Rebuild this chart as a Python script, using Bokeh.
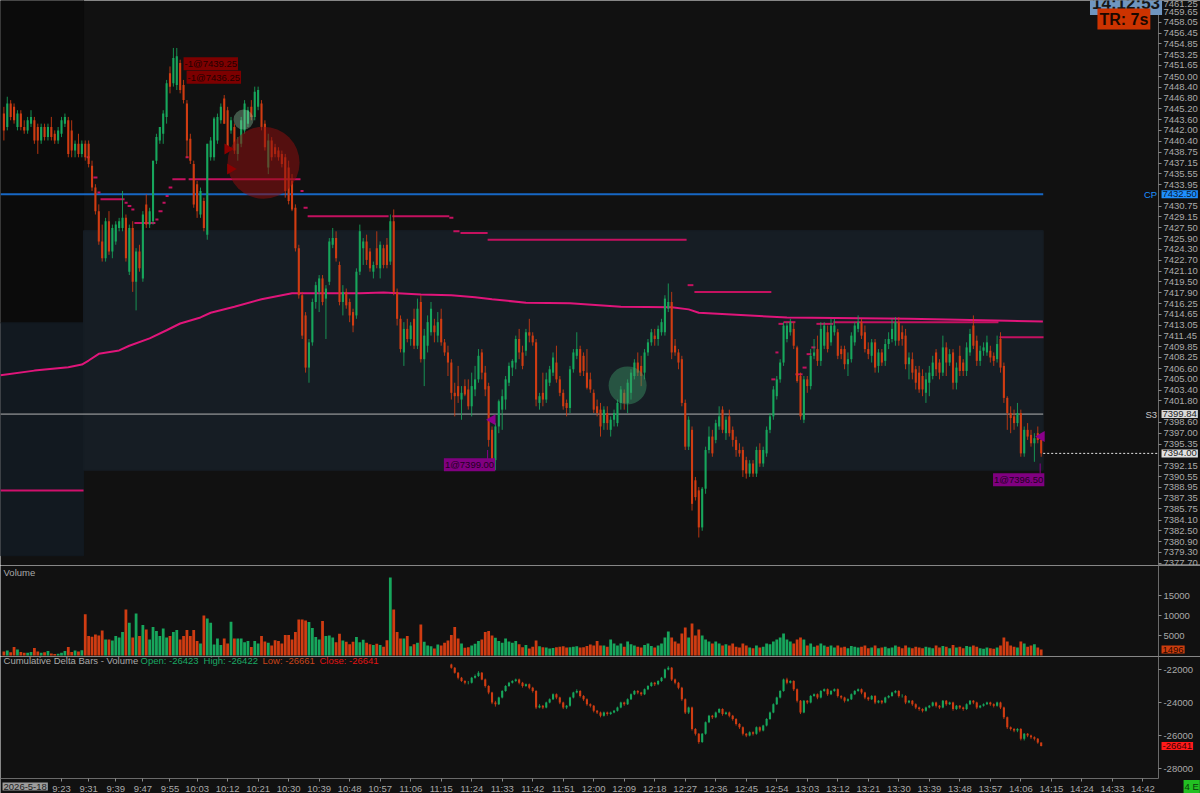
from math import pi
from bokeh.plotting import figure
from bokeh.layouts import column
from bokeh.models import FixedTicker, Label, Range1d, NumeralTickFormatter
from bokeh.embed import file_html
from bokeh.resources import INLINE

# ---------------- data ----------------
first_minute = 546  # first bar 9:06, one-minute bars

opens = [
7444.5, 7442.5, 7446.0, 7445.5, 7442.5, 7444.5, 7442.5, 7442.0, 7443.0, 7443.5,
7442.5, 7440.5, 7442.5, 7441.0, 7442.5, 7441.5, 7440.5, 7441.5, 7443.0, 7443.5,
7442.0, 7439.0, 7440.0, 7438.5, 7440.0, 7440.0, 7436.75, 7433.5, 7430.0, 7425.5,
7423.0, 7428.5, 7424.0, 7425.5, 7427.5, 7427.5, 7429.0, 7421.0, 7427.5, 7419.5,
7424.0, 7420.0, 7431.0, 7428.0, 7428.5, 7437.5, 7440.5, 7441.5, 7444.0, 7450.5,
7449.0, 7448.75, 7452.0, 7448.75, 7446.0, 7440.75, 7437.0, 7434.0, 7429.5, 7431.5,
7426.5, 7438.0, 7438.0, 7440.5, 7443.5, 7446.75, 7445.0, 7442.0, 7442.5, 7438.5,
7440.0, 7442.0, 7443.0, 7445.5, 7444.0, 7445.5, 7446.0, 7443.0, 7436.5, 7440.5,
7439.5, 7439.0, 7438.5, 7438.0, 7436.5, 7434.5, 7430.5, 7424.5, 7417.5, 7414.5,
7406.75, 7410.5, 7416.5, 7418.0, 7420.0, 7417.0, 7419.5, 7425.0, 7426.0, 7422.0,
7416.5, 7418.0, 7416.5, 7415.0, 7414.5, 7421.0, 7424.5, 7425.5, 7424.0, 7421.0,
7424.5, 7421.5, 7424.5, 7425.0, 7422.5, 7428.5, 7418.0, 7414.0, 7409.0, 7412.5,
7411.0, 7414.0, 7410.0, 7416.5, 7408.0, 7410.0, 7412.0, 7413.0, 7411.5, 7414.0,
7410.5, 7409.0, 7407.5, 7403.0, 7404.0, 7402.0, 7404.0, 7403.5, 7401.0, 7403.5,
7405.0, 7409.0, 7406.0, 7404.0, 7397.5, 7393.0, 7398.0, 7400.5, 7402.0, 7404.5,
7406.75, 7407.5, 7411.0, 7409.0, 7409.25, 7412.0, 7411.5, 7410.5, 7401.5, 7403.0,
7402.0, 7404.5, 7406.0, 7407.5, 7405.0, 7403.0, 7401.5, 7400.75, 7406.5, 7408.5,
7409.5, 7408.5, 7406.0, 7405.0, 7403.0, 7401.0, 7400.5, 7398.5, 7400.0, 7397.5,
7399.0, 7398.5, 7401.5, 7403.0, 7401.5, 7403.0, 7405.5, 7407.5, 7407.0, 7406.0,
7409.0, 7410.5, 7411.5, 7411.0, 7412.0, 7412.0, 7415.5, 7416.5, 7410.0, 7409.0,
7408.0, 7401.5, 7395.0, 7397.5, 7390.0, 7388.5, 7383.0, 7388.75, 7394.5, 7396.5,
7396.0, 7398.0, 7400.5, 7397.0, 7399.5, 7397.5, 7396.0, 7394.5, 7394.5, 7393.0,
7391.0, 7392.5, 7391.0, 7394.5, 7392.5, 7394.0, 7397.5, 7399.5, 7402.5, 7405.0,
7407.5, 7411.0, 7412.0, 7412.5, 7409.75, 7405.5, 7399.0, 7405.0, 7404.0, 7408.5,
7409.5, 7407.75, 7410.0, 7412.0, 7410.5, 7412.0, 7412.0, 7409.5, 7409.5, 7407.25,
7408.0, 7410.5, 7412.5, 7413.5, 7412.0, 7409.5, 7408.5, 7410.5, 7407.0, 7409.0,
7407.75, 7410.25, 7411.0, 7410.75, 7413.5, 7412.0, 7411.5, 7407.25, 7408.0, 7406.5,
7406.0, 7405.5, 7403.0, 7404.5, 7405.5, 7409.0, 7407.5, 7406.0, 7409.75, 7407.5,
7409.0, 7404.5, 7408.5, 7407.5, 7406.25, 7409.0, 7413.0, 7410.75, 7407.75, 7409.25,
7409.0, 7409.25, 7408.5, 7408.0, 7411.0, 7407.0, 7402.25, 7400.0, 7399.5, 7398.5,
7400.0, 7394.0, 7397.5, 7396.75, 7395.5, 7397.0, 7396.0]

highs = [
7445.5, 7447.0, 7446.5, 7446.0, 7445.0, 7445.0, 7443.5, 7444.0, 7445.0, 7444.0,
7443.0, 7443.0, 7443.0, 7443.0, 7444.0, 7442.0, 7442.5, 7444.0, 7444.5, 7444.0,
7443.5, 7440.5, 7441.5, 7440.5, 7440.5, 7440.5, 7437.5, 7434.0, 7431.0, 7428.0,
7429.0, 7430.0, 7428.0, 7428.5, 7429.0, 7433.0, 7429.5, 7428.0, 7428.5, 7424.5,
7425.0, 7430.0, 7432.5, 7430.5, 7437.5, 7441.5, 7442.5, 7445.0, 7449.5, 7451.5,
7454.25, 7454.25, 7452.5, 7449.5, 7446.5, 7441.5, 7437.5, 7434.5, 7433.5, 7432.0,
7440.0, 7441.0, 7444.0, 7444.5, 7446.0, 7447.25, 7445.5, 7444.0, 7443.0, 7441.0,
7444.0, 7446.5, 7445.5, 7446.5, 7448.5, 7448.5, 7446.5, 7443.5, 7441.5, 7441.0,
7440.0, 7439.5, 7439.0, 7438.5, 7437.5, 7435.5, 7431.0, 7425.0, 7418.0, 7415.0,
7411.0, 7417.0, 7419.5, 7420.5, 7420.5, 7419.0, 7426.0, 7427.5, 7427.0, 7422.5,
7419.0, 7418.5, 7417.0, 7415.5, 7421.5, 7428.0, 7426.0, 7426.5, 7424.5, 7422.5,
7427.0, 7425.5, 7425.0, 7426.0, 7429.5, 7430.25, 7418.5, 7414.5, 7413.5, 7414.0,
7413.5, 7415.5, 7417.0, 7417.5, 7412.5, 7414.5, 7416.5, 7414.0, 7415.0, 7415.5,
7411.0, 7410.0, 7408.0, 7404.5, 7407.0, 7404.0, 7405.0, 7405.0, 7406.0, 7407.0,
7409.5, 7409.5, 7407.0, 7404.5, 7398.0, 7398.5, 7402.0, 7403.5, 7405.5, 7407.5,
7408.0, 7411.5, 7412.5, 7410.0, 7412.5, 7414.0, 7412.0, 7411.0, 7403.0, 7406.0,
7406.0, 7407.0, 7409.0, 7410.0, 7405.5, 7403.5, 7402.0, 7407.0, 7409.5, 7412.0,
7410.0, 7409.0, 7409.5, 7406.0, 7403.5, 7402.0, 7401.5, 7401.0, 7401.0, 7399.5,
7400.5, 7402.0, 7404.0, 7403.5, 7405.0, 7406.5, 7408.0, 7409.0, 7408.5, 7409.5,
7411.0, 7412.5, 7412.5, 7413.0, 7414.0, 7417.5, 7419.25, 7418.0, 7411.0, 7409.5,
7408.5, 7402.0, 7399.5, 7398.0, 7390.5, 7389.0, 7389.0, 7395.0, 7398.0, 7397.5,
7399.0, 7401.0, 7401.0, 7399.5, 7400.5, 7398.0, 7396.5, 7395.5, 7395.0, 7393.5,
7393.0, 7393.0, 7395.0, 7395.5, 7395.0, 7398.0, 7400.0, 7404.0, 7405.5, 7408.0,
7413.5, 7413.5, 7414.0, 7413.5, 7410.0, 7406.0, 7405.5, 7405.5, 7409.5, 7411.0,
7411.5, 7413.5, 7413.5, 7413.0, 7414.0, 7414.0, 7412.5, 7410.0, 7410.0, 7409.0,
7412.0, 7413.5, 7414.5, 7414.0, 7413.0, 7410.5, 7411.0, 7411.0, 7409.5, 7409.5,
7411.0, 7412.0, 7414.0, 7414.25, 7414.25, 7413.0, 7412.5, 7409.0, 7409.0, 7407.0,
7407.0, 7406.5, 7406.0, 7407.0, 7408.5, 7409.5, 7408.0, 7411.5, 7410.5, 7409.5,
7409.5, 7407.5, 7410.0, 7408.0, 7410.5, 7412.5, 7414.5, 7411.5, 7410.0, 7410.5,
7411.5, 7410.0, 7409.0, 7411.5, 7412.0, 7407.5, 7402.5, 7401.0, 7400.5, 7401.5,
7400.5, 7398.0, 7398.5, 7397.5, 7397.0, 7398.0, 7396.5]

lows = [
7440.5, 7442.0, 7443.5, 7443.0, 7442.0, 7442.0, 7441.5, 7441.5, 7442.5, 7440.0,
7438.5, 7440.0, 7440.5, 7440.5, 7440.5, 7440.0, 7440.0, 7441.0, 7442.5, 7438.0,
7438.0, 7438.0, 7438.0, 7438.0, 7437.5, 7436.5, 7433.0, 7429.5, 7425.0, 7422.5,
7422.5, 7423.5, 7423.0, 7425.0, 7427.0, 7427.0, 7422.5, 7420.5, 7418.0, 7415.25,
7421.0, 7419.5, 7427.5, 7427.5, 7428.0, 7437.0, 7440.0, 7440.0, 7443.0, 7447.5,
7448.5, 7448.0, 7447.5, 7446.0, 7438.0, 7437.0, 7430.5, 7429.0, 7429.0, 7427.0,
7425.75, 7437.5, 7437.5, 7440.0, 7443.0, 7443.0, 7439.0, 7441.5, 7438.5, 7437.5,
7439.5, 7441.5, 7442.5, 7443.5, 7443.5, 7445.0, 7442.0, 7439.0, 7435.5, 7437.5,
7438.0, 7437.5, 7436.5, 7432.0, 7431.0, 7430.0, 7424.0, 7417.0, 7411.0, 7406.0,
7404.5, 7410.0, 7415.5, 7415.0, 7416.0, 7411.0, 7419.0, 7424.5, 7422.5, 7416.0,
7414.5, 7415.5, 7413.5, 7412.0, 7414.0, 7420.5, 7422.0, 7422.0, 7421.0, 7420.0,
7421.5, 7420.0, 7421.5, 7421.5, 7422.0, 7417.5, 7413.0, 7409.0, 7407.0, 7410.5,
7410.0, 7409.5, 7409.5, 7407.5, 7404.0, 7409.0, 7411.5, 7410.5, 7410.5, 7410.0,
7408.5, 7405.5, 7402.0, 7399.5, 7401.5, 7399.0, 7402.5, 7400.5, 7399.5, 7402.5,
7404.5, 7405.0, 7402.5, 7395.0, 7392.5, 7391.5, 7397.0, 7397.5, 7400.5, 7404.0,
7405.5, 7406.5, 7408.0, 7406.5, 7408.5, 7410.5, 7410.0, 7401.0, 7400.5, 7401.0,
7401.5, 7404.0, 7405.5, 7404.5, 7402.5, 7400.5, 7399.5, 7400.0, 7406.0, 7408.0,
7405.5, 7405.5, 7403.5, 7403.0, 7400.0, 7399.5, 7396.5, 7397.5, 7397.5, 7396.5,
7398.0, 7398.0, 7400.5, 7400.5, 7400.0, 7402.0, 7405.0, 7405.5, 7404.0, 7405.0,
7408.5, 7410.0, 7410.0, 7410.0, 7411.5, 7411.5, 7415.0, 7408.0, 7408.5, 7406.5,
7401.0, 7394.5, 7394.5, 7385.5, 7387.0, 7381.5, 7382.5, 7388.0, 7394.0, 7393.5,
7395.5, 7397.5, 7397.0, 7396.0, 7396.5, 7395.0, 7393.5, 7393.5, 7390.5, 7390.25,
7390.5, 7390.5, 7390.5, 7392.0, 7392.0, 7393.5, 7397.0, 7399.0, 7402.0, 7404.5,
7407.0, 7410.5, 7411.5, 7409.5, 7404.5, 7399.0, 7398.5, 7403.0, 7403.5, 7408.0,
7407.0, 7407.0, 7409.5, 7409.0, 7410.0, 7411.5, 7408.0, 7408.0, 7406.5, 7405.5,
7407.5, 7410.0, 7412.0, 7411.0, 7409.0, 7408.0, 7407.5, 7406.0, 7406.0, 7407.0,
7407.0, 7409.5, 7410.5, 7410.0, 7410.0, 7410.0, 7406.5, 7405.0, 7405.0, 7403.5,
7403.0, 7402.5, 7401.5, 7402.5, 7405.0, 7405.5, 7405.0, 7405.5, 7405.5, 7407.0,
7403.5, 7403.5, 7405.5, 7405.5, 7405.5, 7408.5, 7409.5, 7407.0, 7407.0, 7408.5,
7408.5, 7407.5, 7407.0, 7407.5, 7406.0, 7401.5, 7397.5, 7397.0, 7397.5, 7398.0,
7393.5, 7393.5, 7396.0, 7395.0, 7392.75, 7395.5, 7393.5]

closes = [
7442.0, 7446.0, 7444.0, 7443.5, 7444.5, 7442.5, 7442.0, 7443.5, 7444.0, 7440.5,
7440.5, 7442.5, 7441.0, 7442.5, 7441.0, 7440.5, 7442.0, 7443.5, 7444.0, 7438.5,
7439.0, 7440.0, 7438.5, 7440.0, 7438.0, 7437.0, 7433.5, 7430.0, 7425.5, 7423.0,
7428.5, 7424.0, 7427.5, 7428.0, 7428.5, 7429.0, 7423.0, 7427.5, 7419.5, 7424.0,
7421.5, 7429.5, 7428.0, 7430.0, 7437.5, 7441.0, 7442.5, 7444.5, 7449.0, 7448.5,
7452.75, 7453.0, 7448.0, 7446.5, 7440.5, 7437.5, 7431.0, 7430.0, 7433.0, 7427.5,
7440.0, 7440.5, 7443.75, 7444.0, 7445.5, 7443.0, 7439.5, 7443.5, 7439.0, 7440.0,
7443.5, 7446.0, 7445.0, 7444.0, 7447.75, 7448.0, 7442.5, 7439.5, 7440.5, 7438.0,
7438.5, 7438.0, 7437.0, 7433.0, 7431.5, 7430.25, 7424.5, 7417.5, 7411.5, 7406.75,
7410.5, 7416.5, 7419.0, 7420.0, 7416.5, 7418.5, 7425.5, 7426.0, 7423.0, 7416.5,
7418.0, 7416.0, 7414.5, 7413.0, 7421.0, 7427.0, 7425.5, 7422.75, 7421.5, 7422.0,
7422.0, 7425.0, 7422.0, 7422.0, 7428.5, 7418.0, 7414.0, 7409.5, 7412.5, 7411.0,
7413.0, 7410.0, 7415.5, 7408.0, 7411.5, 7413.5, 7415.5, 7412.0, 7413.5, 7410.5,
7409.0, 7407.5, 7403.0, 7402.5, 7402.5, 7403.0, 7402.75, 7401.0, 7404.0, 7405.0,
7408.5, 7406.0, 7403.5, 7396.0, 7393.0, 7398.0, 7401.75, 7402.5, 7405.0, 7407.0,
7407.75, 7411.0, 7409.0, 7407.0, 7412.0, 7411.5, 7410.5, 7402.0, 7402.5, 7402.0,
7405.0, 7406.5, 7408.25, 7405.0, 7403.0, 7401.0, 7400.75, 7406.5, 7409.0, 7409.5,
7406.0, 7406.25, 7403.75, 7403.5, 7400.5, 7400.0, 7398.0, 7400.5, 7398.5, 7399.0,
7400.0, 7401.5, 7403.5, 7401.5, 7404.5, 7406.0, 7407.5, 7406.0, 7405.5, 7409.0,
7410.5, 7412.0, 7411.0, 7412.5, 7413.5, 7417.0, 7416.5, 7409.0, 7409.0, 7407.5,
7401.5, 7395.0, 7399.0, 7386.5, 7387.5, 7383.0, 7388.75, 7394.5, 7396.5, 7394.0,
7398.5, 7399.5, 7397.5, 7399.0, 7397.0, 7396.0, 7394.5, 7394.0, 7391.5, 7391.0,
7392.5, 7391.0, 7394.5, 7392.5, 7394.5, 7397.5, 7399.5, 7403.5, 7405.0, 7407.5,
7413.0, 7413.0, 7413.5, 7410.0, 7404.75, 7399.5, 7405.0, 7404.0, 7408.5, 7409.0,
7407.75, 7412.5, 7413.0, 7409.5, 7413.0, 7413.0, 7408.5, 7408.75, 7407.25, 7408.0,
7411.5, 7413.0, 7413.5, 7411.5, 7409.5, 7408.75, 7410.5, 7406.75, 7409.0, 7407.5,
7410.25, 7411.0, 7412.5, 7413.5, 7410.75, 7411.0, 7407.25, 7408.25, 7406.0, 7404.5,
7403.5, 7403.5, 7405.0, 7406.0, 7407.5, 7406.5, 7406.0, 7409.75, 7407.5, 7408.75,
7404.5, 7406.75, 7406.25, 7406.25, 7409.75, 7411.75, 7410.0, 7407.75, 7409.25, 7409.75,
7410.5, 7408.25, 7407.75, 7410.25, 7406.75, 7402.25, 7400.0, 7399.25, 7398.5, 7400.0,
7394.0, 7397.5, 7396.5, 7395.5, 7396.25, 7396.0, 7394.0]

volume = [
1000, 1250, 800, 2100, 1500, 900, 700, 670, 900, 1900,
1000, 670, 800, 1100, 500, 400, 450, 700, 1100, 2100,
900, 1250, 1000, 1300, 10300, 4850, 4700, 5270, 5000, 6270,
4000, 4000, 3750, 4850, 4500, 5900, 11500, 8200, 4500, 10500,
4850, 7600, 6500, 4000, 7100, 6100, 4850, 6770, 4500, 4850,
5900, 6400, 4000, 4850, 6400, 4850, 6400, 3600, 3000, 10000,
9280, 8200, 2760, 4260, 2600, 4260, 3000, 8440, 4260, 4260,
4260, 3340, 3600, 2100, 3600, 3000, 4850, 3500, 3180, 2500,
3840, 3600, 3000, 5100, 5100, 4000, 5850, 9030, 9030, 8780,
8360, 6900, 4600, 4000, 8600, 4850, 5020, 4500, 3340, 5430,
3760, 3430, 2800, 3430, 4600, 3340, 3930, 3180, 2800, 2600,
2930, 2600, 2200, 3840, 19500, 11500, 5850, 4260, 4260, 4850,
2340, 2800, 3180, 7770, 3430, 2500, 2340, 1760, 2760, 2500,
3180, 3760, 5100, 7100, 4260, 3000, 1930, 2090, 2500, 2930,
3600, 4000, 5850, 6100, 5000, 4430, 3600, 3180, 4260, 3500,
3180, 3600, 2800, 2090, 2600, 1760, 2200, 3760, 2340, 2090,
2000, 1760, 1900, 2090, 2200, 2340, 2000, 2090, 2200, 2340,
2000, 2090, 2400, 2760, 2500, 3600, 2500, 2500, 2200, 4000,
3000, 2500, 3000, 2200, 3500, 2800, 2500, 2200, 2000, 2600,
3000, 2400, 2000, 2500, 3000, 4500, 6000, 4500, 3500, 3000,
5500, 7000, 4500, 8000, 5000, 6500, 5000, 4000, 3500, 3000,
3500, 3000, 2500, 2800, 2500, 3000, 2200, 2000, 3000, 2500,
2000, 1800, 2500, 2000, 2200, 3000, 2800, 3500, 4000, 4500,
5500, 4000, 3500, 3000, 4000, 4500, 4000, 2500, 3000, 2200,
2500, 3000, 2500, 2200, 2500, 2000, 2500, 2000, 2200, 1800,
2400, 2200, 2000, 2200, 2500, 1800, 2000, 2500, 1800, 2000,
2200, 1800, 2000, 2500, 2200, 1800, 2500, 2000, 1800, 2200,
2000, 1800, 2200, 2000, 1800, 2500, 2000, 2400, 2200, 1800,
2600, 2000, 2200, 1800, 2400, 2200, 2500, 2200, 1800, 1700,
2000, 1800, 1700, 2000, 2500, 4500, 3500, 2500, 2200, 2000,
3500, 3000, 2200, 2500, 2800, 2000, 1496]

# cumulative delta bars (begin at bar index delta_start; each opens at the prior close)
delta_start = 132
delta_first_open = -21700
delta_close = [
-21900, -22200, -22500, -22700, -22800, -22800,
-22500, -22400, -22200, -22600, -23000,
-23400, -24000, -24100,
-23700, -23300, -23000, -22800, -22700, -22600, -22800, -23000,
-22900, -23100, -23300, -24300, -24200, -24300, -24000,
-23800, -23500, -23700, -24000, -24300, -24200, -23700, -23400, -23300, -23600,
-23800, -24100, -24200, -24500, -24600, -24800, -24600, -24700, -24600, -24500,
-24300, -24000, -24100, -23800, -23500, -23300, -23400, -23500, -23200, -23000,
-22800, -22900, -22700, -22500, -22000, -21900,
-22600, -22800, -23100, -23800, -24600, -24300, -25600, -25900, -26400,
-25900, -25200, -24800, -24900, -24600, -24400, -24700, -24600, -24800, -25000,
-25300, -25500, -25900, -26000, -25800, -25900, -25500, -25700, -25400, -25000,
-24600, -24100, -23700, -23300, -22600, -22800,
-22700, -23200, -23900, -24600, -23900, -24000, -23600, -23500, -23700, -23300, -23200, -23500, -23300, -23200,
-23600, -23700, -23900, -23800, -23500, -23300, -23200, -23400, -23700, -23800, -23600, -24000, -23900, -24000, -23700,
-23600, -23400, -23300, -23600, -23600, -24000, -23900, -24100, -24300, -24400,
-24500, -24300, -24200, -24000, -24200, -24300, -23900, -24100, -24000, -24400,
-24200, -24300, -24400, -24100, -23900, -24000, -24300, -24200, -24100, -24000, -24100, -24200, -24000, -24300,
-24900, -25500, -25600, -25700, -25600, -26200, -25900, -26000, -26100, -26200, -26423, -26641]
delta_high = [
-21650, -21850, -22150, -22450, -22650, -22700, -22450, -22300, -22100, -22150,
-22550, -22950, -23350, -23900, -23650, -23250, -22950, -22750, -22650, -22550,
-22550, -22750, -22850, -22850, -23050, -23250, -24100, -24150, -23950, -23750,
-23450, -23450, -23650, -23950, -24150, -23650, -23350, -23200, -23250, -23550,
-23750, -24050, -24150, -24450, -24550, -24550, -24550, -24550, -24450, -24250,
-23950, -23950, -23750, -23450, -23250, -23250, -23350, -23150, -22950, -22750,
-22750, -22650, -22450, -21950, -21800, -21850, -22550, -22750, -23050, -23750,
-24250, -24250, -25550, -25850, -25850, -25150, -24750, -24750, -24550, -24350,
-24350, -24550, -24550, -24750, -24950, -25250, -25450, -25850, -25750, -25750,
-25450, -25450, -25350, -24950, -24550, -24050, -23650, -23250, -22550, -22500,
-22650, -22650, -23150, -23850, -23850, -23850, -23550, -23450, -23450, -23250,
-23150, -23150, -23250, -23150, -23150, -23550, -23650, -23750, -23450, -23250,
-23150, -23150, -23350, -23650, -23550, -23550, -23850, -23850, -23650, -23550,
-23350, -23250, -23250, -23500, -23550, -23850, -23850, -24050, -24250, -24350,
-24250, -24150, -23950, -23950, -24150, -23850, -23850, -23950, -23950, -24150,
-24150, -24250, -24050, -23850, -23850, -23950, -24150, -24050, -23950, -23950,
-24050, -23950, -23950, -24250, -24850, -25450, -25550, -25550, -25550, -25850,
-25850, -25950, -26050, -26150, -26422]
delta_low = [
-21950, -22250, -22600, -22750, -22900, -22900, -22850, -22550, -22450, -22650,
-23100, -23500, -24100, -24250, -24150, -23750, -23350, -23050, -22850, -22750,
-22900, -23100, -23050, -23200, -23400, -24400, -24350, -24400, -24350, -24050,
-23850, -23800, -24100, -24400, -24400, -24250, -23750, -23450, -23700, -23900,
-24200, -24300, -24600, -24700, -24900, -24850, -24800, -24750, -24650, -24550,
-24350, -24200, -24150, -23850, -23550, -23500, -23600, -23550, -23250, -23050,
-23000, -22950, -22750, -22550, -22050, -22700, -22900, -23200, -23900, -24700,
-24700, -25700, -26000, -26500, -26450, -25950, -25250, -25000, -24950, -24650,
-24800, -24750, -24900, -25100, -25400, -25600, -26000, -26100, -26050, -26000,
-25950, -25800, -25750, -25450, -25050, -24650, -24150, -23750, -23350, -22900,
-22850, -23300, -24000, -24700, -24650, -24100, -24050, -23650, -23800, -23750,
-23350, -23600, -23550, -23350, -23700, -23800, -24000, -23950, -23850, -23550,
-23350, -23500, -23800, -23900, -23850, -24100, -24050, -24100, -24050, -23750,
-23650, -23450, -23700, -23700, -24100, -24050, -24200, -24400, -24500, -24600,
-24550, -24350, -24250, -24300, -24400, -24350, -24200, -24150, -24500, -24450,
-24400, -24500, -24450, -24150, -24100, -24400, -24350, -24250, -24150, -24200,
-24300, -24250, -24400, -25000, -25600, -25700, -25800, -25800, -26300, -26300,
-26100, -26200, -26300, -26500, -26661]

vwap_time = [545.0, 555, 565, 569, 571, 574, 580, 583, 589, 594, 598, 604, 607, 614, 622, 631,
             651, 658, 669, 678, 685, 690, 700, 713, 728, 743, 748, 751, 762, 777, 813, 842, 852.5]
vwap_price = [7405.6, 7406.3, 7406.8, 7407.2, 7407.8, 7408.8, 7409.3, 7410.0, 7411.1, 7412.3, 7413.3,
              7414.2, 7414.9, 7415.8, 7416.9, 7417.8, 7417.8, 7417.9, 7417.6, 7417.5, 7417.2, 7416.9,
              7416.4, 7416.3, 7415.8, 7415.7, 7415.4, 7414.9, 7414.6, 7414.2, 7414.0, 7413.7, 7413.6]

# short pink level segments (start minute, end minute, price)
lvl_t0 = [570.4, 572.4, 573.6, 574.5, 581.6, 582.5, 583.6, 584.5, 590.7, 591.6, 592.8, 593.7, 594.6,
          595.7, 599.6, 600.5, 633.5, 634.4, 635.6, 660.6, 677.4, 678.6, 680.7, 688.7, 747.7, 749.7,
          772.4, 773.6, 774.5, 776.0, 779.5, 781.6, 782.8, 784.2, 785.7, 790.7, 839.7]
lvl_t1 = [571.3, 573.6, 574.5, 581.6, 582.5, 583.6, 584.5, 590.7, 591.6, 592.8, 593.7, 594.6, 595.7,
          599.6, 600.5, 633.5, 634.4, 635.6, 659.5, 677.4, 678.6, 680.4, 688.7, 747.4, 749.4, 772.4,
          773.6, 774.5, 776.0, 779.5, 781.6, 782.8, 784.2, 785.4, 790.7, 839.4, 852.7]
lvl_price = [7438.0, 7435.0, 7432.75, 7431.75, 7431.25, 7430.75, 7430.25, 7428.25, 7428.75, 7430.0,
             7431.25, 7432.25, 7433.5, 7434.75, 7438.0, 7434.75, 7433.0, 7430.5, 7429.25, 7429.25,
             7429.0, 7427.0, 7426.75, 7425.75, 7419.0, 7418.0, 7405.0, 7409.0, 7413.25, 7413.5,
             7405.75, 7406.75, 7408.75, 7409.75, 7413.25, 7413.5, 7411.25]

cp_price = 7432.50
s3_price = 7399.84
last_price = 7394.00
va_high, va_low = 7427.1, 7391.5
rth_open_minute = 569.5
prev_va_high, prev_va_low = 7413.4, 7378.8
prev_level = 7388.5

sell_time = [612.0, 612.8]
sell_price = [7439.25, 7436.25]
sell_text = ["-1@7439.25", "-1@7436.25"]
buy_time = [690.1, 852.1]
buy_price = [7399.00, 7396.50]
buy_text = ["1@7399.00", "1@7396.50"]

price_ticks = [7461.25, 7459.65, 7458.05, 7456.45, 7454.85, 7453.25, 7451.65, 7450.00, 7448.40, 7446.80,
               7445.20, 7443.60, 7442.00, 7440.40, 7438.75, 7437.15, 7435.55, 7433.95, 7430.75, 7429.15,
               7427.50, 7425.90, 7424.30, 7422.70, 7421.10, 7419.50, 7417.90, 7416.25, 7414.65, 7413.05,
               7411.45, 7409.85, 7408.25, 7406.60, 7405.00, 7403.40, 7401.80, 7398.60, 7397.00, 7395.35,
               7392.15, 7390.55, 7388.95, 7387.35, 7385.75, 7384.10, 7382.50, 7380.90, 7379.30, 7377.70]
volume_ticks = [5000, 10000, 15000]
delta_ticks = [-22000, -24000, -26000, -28000]
time_labels = ["9:23", "9:31", "9:39", "9:47", "9:55", "10:03", "10:12", "10:21", "10:30", "10:39",
               "10:48", "10:57", "11:06", "11:15", "11:24", "11:33", "11:42", "11:51", "12:00", "12:09",
               "12:18", "12:27", "12:36", "12:45", "12:54", "13:03", "13:12", "13:21", "13:30", "13:39",
               "13:48", "13:57", "14:06", "14:15", "14:24", "14:33", "14:42"]

# ---------------- styling ----------------
BG = "#111111"
GREEN = "#17a65c"
RED = "#d03c12"
TXT = "#a9a9a9"
FONT = "Liberation Sans"
FS = "9.5px"
PINK = "#e0157a"
X0 = 545.0          # left edge of the window (minutes)
X_AXIS = 886.6      # where the value axes sit
X1 = 899.0          # right edge of the window
TAG_X = 887.5       # left edge of the axis tags

n = len(closes)
t = [first_minute + i for i in range(n)]
col = [GREEN if c >= o else RED for o, c in zip(opens, closes)]
btop = [max(o, c) if o != c else o + 0.1 for o, c in zip(opens, closes)]
bbot = [min(o, c) for o, c in zip(opens, closes)]
t_end = t[-1] + 0.6

x_range = Range1d(X0, X1)


def style_yaxis(fig, ticks, fmt, bounds=None):
    ax = fig.yaxis[0]
    ax.fixed_location = X_AXIS
    if bounds:
        ax.bounds = bounds
    ax.ticker = FixedTicker(ticks=ticks)
    ax.formatter = NumeralTickFormatter(format=fmt)
    ax.axis_line_color = "#6a6a6a"
    ax.major_tick_line_color = "#8a8a8a"
    ax.major_tick_out = 3
    ax.major_tick_in = 0
    ax.minor_tick_line_color = None
    ax.major_label_standoff = 2
    ax.major_label_text_font = FONT
    ax.major_label_text_font_size = FS
    ax.major_label_text_color = TXT


def make_fig(height, y_range, x_axis):
    f = figure(width=1200, height=height, x_range=x_range, y_range=y_range,
               output_backend="svg", toolbar_location=None,
               y_axis_location="right", x_axis_location="below" if x_axis else None,
               min_border_left=0, min_border_right=0, min_border_top=0, min_border_bottom=0,
               background_fill_color=BG, border_fill_color=BG, outline_line_color=None)
    f.grid.visible = False
    return f


def text(fig, x, y, s, color, align="left", size=FS):
    fig.add_layout(Label(x=x, y=y, text=s, text_font=FONT, text_font_size=size,
                         text_color=color, text_align=align, text_baseline="middle"))


def box_label(fig, x, y, s, bg, fg, size=FS, align="left", bold=False, pad=1):
    fig.add_layout(Label(x=x, y=y, text=s, text_font=FONT, text_font_size=size,
                         text_color=fg, text_align=align, text_baseline="middle",
                         text_font_style="bold" if bold else "normal",
                         background_fill_color=bg, padding=pad))


# ---------------- price panel ----------------
p = make_fig(565, Range1d(7377.34, 7461.3), False)
style_yaxis(p, price_ticks, "0.00")

p.quad(left=[X0], right=[rth_open_minute], bottom=[prev_va_high], top=[7462], color="#0b0b0b")
p.quad(left=[X0], right=[rth_open_minute], bottom=[prev_va_low], top=[prev_va_high], color="#121920")
p.quad(left=[rth_open_minute], right=[t_end], bottom=[va_low], top=[va_high], color="#161d24")

p.segment(x0=[X0], y0=[prev_level], x1=[rth_open_minute], y1=[prev_level], color="#d0106c", line_width=2)
p.segment(x0=[X0], y0=[cp_price], x1=[t_end], y1=[cp_price], color="#1767c4", line_width=2)
p.segment(x0=[X0], y0=[s3_price], x1=[t_end], y1=[s3_price], color="#b4b4b4", line_width=1)
p.segment(x0=[t_end], y0=[last_price], x1=[X_AXIS], y1=[last_price], color="#e8e8e8",
          line_width=1, line_dash="2 2")
p.segment(x0=[X_AXIS], y0=[7377.45], x1=[X1], y1=[7377.45], color="#8a8a8a", line_width=1)

p.segment(x0=lvl_t0, y0=lvl_price, x1=lvl_t1, y1=lvl_price, color="#c4115f", line_width=2)
p.line(vwap_time, vwap_price, color=PINK, line_width=2)

p.segment(x0=t, y0=lows, x1=t, y1=highs, color=col, line_width=1, alpha=0.85)
p.vbar(x=t, width=0.62, top=btop, bottom=bbot, fill_color=col, line_color=None)

# trade circles
p.scatter([622.6], [7437.2], size=72, marker="circle", fill_color="#8c0f0f", fill_alpha=0.55, line_color=None)
p.scatter([616.7], [7443.6], size=20, marker="circle", fill_color="#9ad8b0", fill_alpha=0.35, line_color=None)
p.scatter([730.0], [7404.1], size=38, marker="circle", fill_color="#3c9a68", fill_alpha=0.45, line_color=None)

# execution markers
p.scatter(sell_time, sell_price, size=11, marker="triangle", angle=-pi / 2,
          fill_color="#8b0000", line_color=None)
p.scatter(buy_time, buy_price, size=11, marker="triangle", angle=pi / 2,
          fill_color="#8b008b", line_color=None)
p.segment(x0=[688.7, 851.7], y0=[7392.8, 7391.0], x1=[688.7, 851.7], y1=[7394.5, 7392.5],
          color="#8b008b", line_width=1)

box_label(p, 599.0, 7451.9, sell_text[0], "#7d0000", "#220000")
box_label(p, 599.9, 7449.9, sell_text[1], "#7d0000", "#220000")
box_label(p, 675.8, 7392.3, buy_text[0], "#800080", "#220022")
box_label(p, 837.8, 7390.1, buy_text[1], "#800080", "#220022")

# right-axis tags
text(p, 886.2, cp_price, "CP", "#1e90ff", align="right")
box_label(p, TAG_X, cp_price, "7432.50", "#1e8fff", "#0a1a33")
text(p, 886.2, s3_price, "S3", "#c8c8c8", align="right")
box_label(p, TAG_X, s3_price, "7399.84", "#d8d8d8", "#1c1c1c")
box_label(p, TAG_X, last_price, "7394.00", "#e2e2e2", "#1c1c1c")

# clock / bar timer
box_label(p, 866.4, 7460.85, "14:12:53", "#7096c0", "#161616", size="17px", bold=True, pad=2)
box_label(p, 868.6, 7458.55, "TR: 7s", "#cc3300", "#1a0800", size="16px", bold=True, pad=2)

# ---------------- volume panel ----------------
pv = make_fig(91, Range1d(-250, 22500), False)
style_yaxis(pv, volume_ticks, "0")
pv.vbar(x=t, width=0.82, top=volume, bottom=0, fill_color=col, line_color=None)
text(pv, 545.9, 20750, "Volume", TXT)
box_label(pv, TAG_X, volume[-1], str(volume[-1]), "#cc3d0e", "#2a0800")

# ---------------- cumulative delta panel ----------------
D_TOP, D_STEP = -21212, 60.6
D_AXIS = D_TOP - 122 * D_STEP
pd_ = make_fig(137, Range1d(D_TOP - 137 * D_STEP, D_TOP), True)
style_yaxis(pd_, delta_ticks, "0", bounds=(D_AXIS, D_TOP))
xa = pd_.xaxis[0]
xa.fixed_location = D_AXIS
xa.bounds = (X0, X_AXIS)
tick_min = [int(s.split(":")[0]) * 60 + int(s.split(":")[1]) for s in time_labels]
xa.ticker = FixedTicker(ticks=tick_min)
xa.major_label_overrides = {m: s for m, s in zip(tick_min, time_labels)}
xa.axis_line_color = "#6a6a6a"
xa.major_tick_line_color = "#8a8a8a"
xa.major_tick_out = 3
xa.major_tick_in = 0
xa.minor_tick_line_color = None
xa.major_label_standoff = 1
xa.major_label_text_font = FONT
xa.major_label_text_font_size = FS
xa.major_label_text_color = TXT

d_t = t[delta_start:]
d_open = [delta_first_open] + delta_close[:-1]
d_col = [GREEN if c >= o else RED for o, c in zip(d_open, delta_close)]
d_top = [max(o, c) for o, c in zip(d_open, delta_close)]
d_bot = [min(o, c) for o, c in zip(d_open, delta_close)]
pd_.segment(x0=d_t, y0=delta_low, x1=d_t, y1=delta_high, color=d_col, line_width=1, alpha=0.85)
pd_.vbar(x=d_t, width=0.62, top=d_top, bottom=d_bot, fill_color=d_col, line_color=None)

hy = D_TOP - 4 * D_STEP
for x, s, c in [(545.9, "Cumulative Delta Bars - Volume", TXT), (586.3, "Open: -26423", "#1aa864"),
                (604.9, "High: -26422", "#1aa864"), (622.3, "Low: -26661", "#c8441a"),
                (639.1, "Close: -26641", "#e01414")]:
    text(pd_, x, hy, s, c)
box_label(pd_, TAG_X, delta_close[-1], str(delta_close[-1]), "#ff1a1a", "#3a0000")
box_label(pd_, 545.6, D_TOP - 130 * D_STEP, "2026-5-18", "#9c9c9c", "#202020")
box_label(pd_, 894.0, D_TOP - 130 * D_STEP, "4 E", "#22c022", "#0a3a0a")

layout = column(p, pv, pd_, spacing=0)
open("out.html", "w").write(file_html(layout, INLINE))
